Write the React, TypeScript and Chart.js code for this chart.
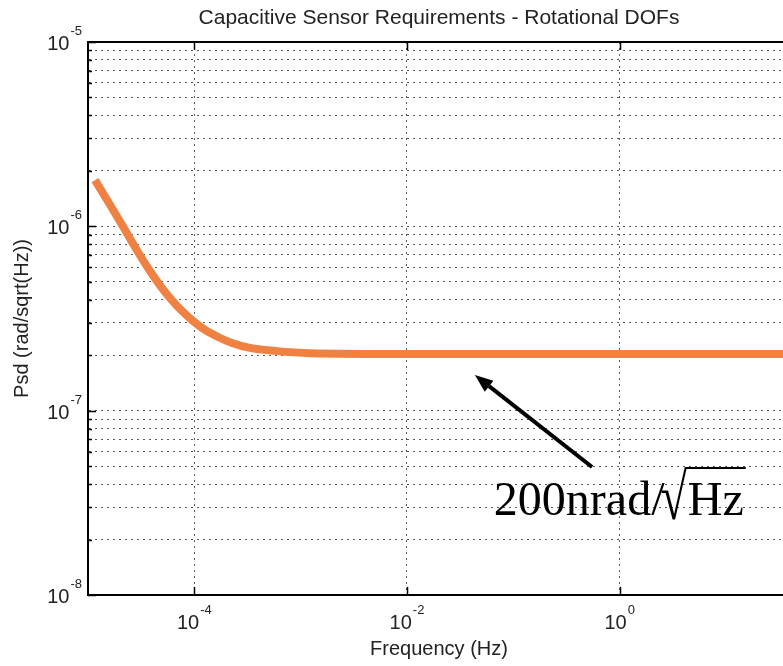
import React, { useEffect, useRef } from 'react';
import { Chart, registerables } from 'chart.js';

Chart.register(...registerables);

// ---- text ----
const TITLE = 'Capacitive Sensor Requirements - Rotational DOFs';
const X_LABEL = 'Frequency (Hz)';
const Y_LABEL = 'Psd (rad/sqrt(Hz))';
const NOTE_PARTS = ['200nrad/', '√', 'Hz'];

// ---- data ----
const frequencyHz = [
  1.164e-5, 1.61e-5, 2.23e-5, 2.95e-5, 4.0e-5, 5.3e-5, 7.03e-5, 9.51e-5, 1.26e-4, 1.67e-4, 2.26e-4, 3.34e-4, 5.74e-4,
  1.22e-3, 1e-2, 1, 40,
];
const psdRadPerRootHz = [
  1.78e-6, 1.31e-6, 9.55e-7, 7.26e-7, 5.51e-7, 4.4e-7, 3.65e-7, 3.1e-7, 2.74e-7, 2.51e-7, 2.33e-7, 2.19e-7, 2.11e-7,
  2.05e-7, 2.03e-7, 2.03e-7, 2.03e-7,
];

// ---- axes ----
const X_MIN = 1e-5;
const X_MAX = 40;
const Y_MIN = 1e-8;
const Y_MAX = 1e-5;
const xTickValues = [1e-4, 1e-2, 1];
const yDecadeExponents = [-8, -7, -6];
const yMantissas = [1, 2, 3, 4, 5, 6, 7, 8, 9];
const yTickValues = [
  ...yDecadeExponents.flatMap((d) => yMantissas.map((m) => m * Math.pow(10, d))),
  Y_MAX,
];

// ---- annotation anchors (data coordinates) ----
const arrowTail = { x: 0.55, y: 4.95e-8 };
const arrowTip = { x: 0.0435, y: 1.56e-7 };
const noteAnchor = { x: 0.0656, y: 2.72e-8 };

const SANS = '"Liberation Sans", Arial, Helvetica, sans-serif';
const SERIF = '"Liberation Serif", "Times New Roman", serif';
const LINE_COLOR = '#EF8243';
const TEXT_COLOR = '#222';

const isPow10 = (v: number) => {
  const l = Math.log10(v);
  return Math.abs(l - Math.round(l)) < 1e-6;
};

function drawPow10(ctx: CanvasRenderingContext2D, v: number, x: number, baseline: number, align: 'right' | 'center') {
  const e = String(Math.round(Math.log10(v)));
  const baseFont = `20px ${SANS}`;
  const expFont = `13px ${SANS}`;
  ctx.font = baseFont;
  const w1 = ctx.measureText('10').width;
  ctx.font = expFont;
  const w2 = ctx.measureText(e).width;
  const total = w1 + 1 + w2;
  const start = align === 'right' ? x - total : x - total / 2;
  ctx.textAlign = 'left';
  ctx.textBaseline = 'alphabetic';
  ctx.font = baseFont;
  ctx.fillText('10', start, baseline);
  ctx.font = expFont;
  ctx.fillText(e, start + w1 + 1, baseline - 15);
}

const overlayPlugin = {
  id: 'overlay',
  afterDraw(chart: any) {
    const { ctx, chartArea: a, scales } = chart;
    const xs = scales.x;
    const ys = scales.y;
    ctx.save();

    // top box edge
    ctx.strokeStyle = '#000';
    ctx.lineWidth = 2;
    ctx.setLineDash([]);
    ctx.beginPath();
    ctx.moveTo(a.left, a.top);
    ctx.lineTo(a.right, a.top);
    ctx.stroke();

    // inward tick marks
    ctx.lineWidth = 1.5;
    ctx.beginPath();
    ys.ticks.forEach((t: any) => {
      const py = Math.round(ys.getPixelForValue(t.value)) + 0.5;
      const len = isPow10(t.value) ? 8 : 4;
      ctx.moveTo(a.left, py);
      ctx.lineTo(a.left + len, py);
    });
    xs.ticks.forEach((t: any) => {
      const px = Math.round(xs.getPixelForValue(t.value)) + 0.5;
      ctx.moveTo(px, a.bottom);
      ctx.lineTo(px, a.bottom - 8);
      ctx.moveTo(px, a.top);
      ctx.lineTo(px, a.top + 8);
    });
    ctx.stroke();

    // tick labels
    ctx.fillStyle = TEXT_COLOR;
    ys.ticks.forEach((t: any) => {
      if (!isPow10(t.value)) return;
      const py = ys.getPixelForValue(t.value);
      drawPow10(ctx, t.value, a.left - 6, py + 8, 'right');
    });
    xs.ticks.forEach((t: any) => {
      const px = xs.getPixelForValue(t.value);
      drawPow10(ctx, t.value, px, a.bottom + 34, 'center');
    });

    // title
    ctx.font = `21px ${SANS}`;
    ctx.textAlign = 'center';
    ctx.textBaseline = 'alphabetic';
    ctx.fillText(TITLE, (a.left + a.right) / 2, a.top - 18);

    // arrow
    const tx = xs.getPixelForValue(arrowTip.x);
    const ty = ys.getPixelForValue(arrowTip.y);
    const sx = xs.getPixelForValue(arrowTail.x);
    const sy = ys.getPixelForValue(arrowTail.y);
    const ang = Math.atan2(ty - sy, tx - sx);
    const headLen = 18;
    const headHalf = 7;
    const bx = tx - headLen * Math.cos(ang);
    const by = ty - headLen * Math.sin(ang);
    ctx.strokeStyle = '#000';
    ctx.fillStyle = '#000';
    ctx.lineWidth = 4;
    ctx.beginPath();
    ctx.moveTo(sx, sy);
    ctx.lineTo(bx, by);
    ctx.stroke();
    ctx.beginPath();
    ctx.moveTo(tx, ty);
    ctx.lineTo(bx + headHalf * Math.sin(ang), by - headHalf * Math.cos(ang));
    ctx.lineTo(bx - headHalf * Math.sin(ang), by + headHalf * Math.cos(ang));
    ctx.closePath();
    ctx.fill();

    // note text with radical
    const nx = xs.getPixelForValue(noteAnchor.x);
    const ny = ys.getPixelForValue(noteAnchor.y);
    ctx.font = `48px ${SERIF}`;
    ctx.textAlign = 'left';
    ctx.textBaseline = 'alphabetic';
    let cx = nx;
    const w0 = ctx.measureText(NOTE_PARTS[0]).width;
    ctx.fillText(NOTE_PARTS[0], cx, ny);
    cx += w0 - 4;
    const mRad = ctx.measureText(NOTE_PARTS[1]);
    const asc = mRad.actualBoundingBoxAscent || 38;
    const desc = mRad.actualBoundingBoxDescent || 2;
    const radH = 53;
    const radBottom = ny + 5;
    const scaleY = radH / (asc + desc);
    ctx.save();
    ctx.translate(cx, radBottom);
    ctx.scale(1, scaleY);
    ctx.fillText(NOTE_PARTS[1], 0, -desc);
    ctx.restore();
    const radTop = radBottom - radH;
    const radEnd = cx + mRad.width;
    cx = radEnd + 1;
    const wHz = ctx.measureText(NOTE_PARTS[2]).width;
    ctx.fillText(NOTE_PARTS[2], cx, ny);
    ctx.lineWidth = 2;
    ctx.beginPath();
    ctx.moveTo(radEnd - 2, radTop + 1);
    ctx.lineTo(cx + wHz + 2, radTop + 1);
    ctx.stroke();

    ctx.restore();
  },
};

export default function App() {
  const canvasRef = useRef<HTMLCanvasElement | null>(null);

  useEffect(() => {
    if (!canvasRef.current) return;
    const chart = new Chart(canvasRef.current, {
      type: 'line',
      data: {
        datasets: [
          {
            label: 'Requirement',
            data: frequencyHz.map((f, i) => ({ x: f, y: psdRadPerRootHz[i] })),
            borderColor: LINE_COLOR,
            backgroundColor: LINE_COLOR,
            borderWidth: 8,
            pointRadius: 0,
            cubicInterpolationMode: 'monotone',
            fill: false,
          },
        ],
      },
      options: {
        responsive: false,
        animation: false,
        devicePixelRatio: 1,
        layout: { padding: { top: 42, left: 0, right: 0, bottom: 0 } },
        plugins: {
          legend: { display: false },
          tooltip: { enabled: false },
          title: { display: false },
        },
        scales: {
          x: {
            type: 'logarithmic',
            min: X_MIN,
            max: X_MAX,
            afterBuildTicks: (scale: any) => {
              scale.ticks = xTickValues.map((v) => ({ value: v }));
            },
            afterFit: (scale: any) => {
              scale.height = 71;
            },
            ticks: { display: false },
            grid: { color: 'rgba(0,0,0,0.65)', lineWidth: 1, drawTicks: false },
            border: { display: true, color: '#000', width: 2, dash: [2, 4] },
            title: {
              display: true,
              text: X_LABEL,
              color: TEXT_COLOR,
              font: { family: SANS, size: 20 },
              padding: { top: 0, bottom: 5 },
            },
          },
          y: {
            type: 'logarithmic',
            min: Y_MIN,
            max: Y_MAX,
            afterBuildTicks: (scale: any) => {
              scale.ticks = yTickValues.map((v) => ({ value: v }));
            },
            afterFit: (scale: any) => {
              scale.width = 88;
            },
            ticks: { display: false },
            grid: { color: 'rgba(0,0,0,0.65)', lineWidth: 1, drawTicks: false },
            border: { display: true, color: '#000', width: 2, dash: [2, 4] },
            title: {
              display: true,
              text: Y_LABEL,
              color: TEXT_COLOR,
              font: { family: SANS, size: 20 },
              padding: { top: 10, bottom: 0 },
            },
          },
        },
      },
      plugins: [overlayPlugin],
    } as any);
    return () => chart.destroy();
  }, []);

  return (
    <div
      style={{
        position: 'fixed',
        left: 0,
        top: 0,
        width: 783,
        height: 666,
        overflow: 'hidden',
        background: '#fff',
      }}
    >
      <canvas ref={canvasRef} width={790} height={666} style={{ display: 'block' }} />
    </div>
  );
}
